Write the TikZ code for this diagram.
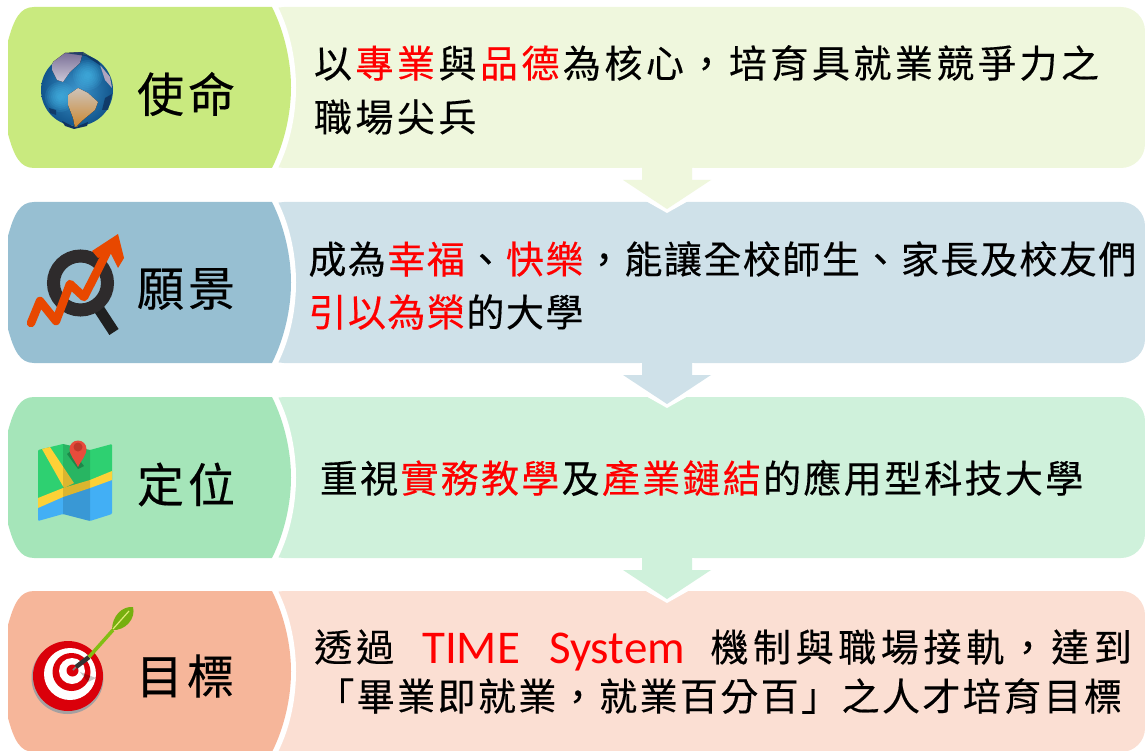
\documentclass[tikz,border=0pt]{standalone}
\usepackage{fontspec}
\setmainfont{Noto Sans CJK TC}[FakeBold=0.35]
\newfontfamily\latinf{Carlito}
\definecolor{lightA}{HTML}{EFF7DD}\definecolor{darkA}{HTML}{C9EA7F}
\definecolor{lightB}{HTML}{CFE1E9}\definecolor{darkB}{HTML}{97BFD2}
\definecolor{lightC}{HTML}{CFF1DB}\definecolor{darkC}{HTML}{A5E5B9}
\definecolor{lightD}{HTML}{FBDFD3}\definecolor{darkD}{HTML}{F6B69A}
\definecolor{hl}{HTML}{FF0000}
\definecolor{orng}{RGB}{232,72,0}
\definecolor{tred}{RGB}{218,0,10}
\def\redon{\relax}\def\redoff{\relax\relax}
\def\teston{\redon}\def\testoff{\redoff}
\makeatletter
% fixed pitch line of text; \redon and \redoff switch the colour
\newcommand{\pline}[2]{\def\pp{#1}\@tfor\ch:=#2\do{%
  \ifx\ch\teston\color{hl}\else\ifx\ch\testoff\color{black}\else\makebox[\pp pt]{\ch}\fi\fi}}
\makeatother
% row: top y, bottom y, light, dark
\newcommand{\panelrow}[4]{%
  \fill[#3,rounded corners=24] (260,#1) -- (1145,#1) -- (1145,#2) -- (260,#2) -- cycle;
  \fill[white] (240,#1) -- (278,#1) .. controls (291,{#1+26}) and (296,{(#1+#2)/2-25}) .. (296,{(#1+#2)/2})
     .. controls (296,{(#1+#2)/2+25}) and (291,{#2-26}) .. (278,#2) -- (240,#2) -- cycle;
  \fill[#4] (34,#1) -- (272,#1) .. controls (285,{#1+26}) and (291,{(#1+#2)/2-25}) .. (291,{(#1+#2)/2})
     .. controls (291,{(#1+#2)/2+25}) and (285,{#2-26}) .. (272,#2) -- (34,#2)
     .. controls (20,#2) and (14,{#2-12}) .. (8,{#2-34}) -- (8,{#1+34}) .. controls (14,{#1+12}) and (20,#1) .. (34,#1) -- cycle;
}
% arrow: top y, colour
\newcommand{\flowarrow}[2]{%
  \fill[white] (667,{#1+45}) -- (607,{#1+11}) -- (640,{#1+11}) -- (640,{#1}) -- (694,{#1}) -- (694,{#1+11}) -- (727,{#1+11}) -- cycle;
  \fill[#2] (642,{#1-1}) -- (692,{#1-1}) -- (692,{#1+12}) -- (711,{#1+12}) -- (667,{#1+41}) -- (623,{#1+12}) -- (642,{#1+12}) -- cycle;
}
\tikzset{
  title/.style={anchor=center,inner sep=0pt,text=black,font=\fontsize{47}{47}\selectfont},
  body/.style={anchor=west,inner sep=0pt,text=black,font=\fontsize{38}{38}\selectfont},
}
\begin{document}
\begin{tikzpicture}[x=1pt,y=-1pt]
\useasboundingbox (0,0) rectangle (1145,751);
\panelrow{7}{168}{lightA}{darkA}
\panelrow{202}{363}{lightB}{darkB}
\panelrow{397}{558}{lightC}{darkC}
\panelrow{591}{752}{lightD}{darkD}
\flowarrow{168}{lightA}
\flowarrow{363}{lightB}
\flowarrow{558}{lightC}

% globe
\shade[inner color={rgb,255:red,60;green,150;blue,205},outer color={rgb,255:red,18;green,85;blue,140}] (77,90) circle (36);
\foreach \r in {3,5,...,15}{\fill[cyan!70!white,opacity=.12] (88,75) circle (\r);\fill[cyan!70!white,opacity=.12] (60,97) circle (\r);}
\fill[top color={rgb,255:red,120;green,110;blue,150},bottom color={rgb,255:red,205;green,200;blue,215}] (53,62) -- (65,53) -- (83,52) -- (80,63) -- (70,72) -- (63,82) -- (57,80) -- (52,70) -- cycle;
\fill[color={rgb,255:red,175;green,165;blue,190}] (100,65) -- (110,77) -- (112,88) -- (105,80) -- cycle;
\fill[top color={rgb,255:red,205;green,195;blue,185},bottom color={rgb,255:red,205;green,135;blue,45}] (68,95) -- (78,88) -- (88,93) -- (98,102) -- (95,110) -- (83,120) -- (75,128) -- (73,118) -- (68,105) -- cycle;
\fill[color={rgb,255:red,15;green,50;blue,95}] (62,121) -- (70,125) -- (76,127) -- (88,122) -- (87,126) -- (74,129) -- (65,126) -- cycle;
\fill[color={rgb,255:red,15;green,50;blue,95},opacity=.8] (105,98) -- (112,94) -- (108,110) -- (102,110) -- cycle;
\fill[color={rgb,255:red,15;green,50;blue,95},opacity=.8] (49,108) -- (56,110) -- (56,115) -- (50,113) -- cycle;
\fill[color={rgb,255:red,15;green,50;blue,95},opacity=.8] (65,53) -- (83,52) -- (98,61) -- (101,66) -- (86,56) -- cycle;

% magnifier
\draw[line width=11,color={rgb,255:red,31;green,32;blue,32},line cap=butt] (97,306) -- (114,332);
\draw[line width=13,color={rgb,255:red,46;green,43;blue,44}] (80.5,283) circle (27);
\draw[line width=8.5,color=orng,line join=round,line cap=round] (31,323) -- (40,301) -- (56,321) -- (70,284) -- (84,297) -- (109,248);
\fill[color=orng] (92,251) -- (118,234) -- (124,258) -- (118,268) -- (110,252) -- (98,258) -- cycle;

% map
\fill[color={rgb,255:red,46;green,208;blue,113},rounded corners=1] (38,450) -- (63,444) -- (90,450) -- (112,444) -- (112,480) -- (38,505) -- cycle;
\fill[color={rgb,255:red,66;green,175;blue,245},rounded corners=1] (38,505) -- (112,478) -- (112,514) -- (90,521) -- (63,514) -- (38,521) -- cycle;
\fill[color={rgb,255:red,253;green,209;blue,55}] (38,498) -- (63,488) -- (90,480) -- (112,471) -- (112,480) -- (90,488) -- (63,497) -- (38,508) -- cycle;
\fill[color={rgb,255:red,253;green,209;blue,55}] (42,449) -- (50,447) -- (74,483) -- (64,488) -- cycle;
\fill[black,opacity=.13] (63,444) -- (90,450) -- (90,521) -- (63,514) -- cycle;
\fill[black,opacity=.25] (67,454) -- (72,450) -- (84,466) -- (78,469) -- cycle;
\fill[color={rgb,255:red,231;green,76;blue,60}] (78,467) .. controls (74,459) and (69.5,455) .. (69.5,449) arc[start angle=180,end angle=360,radius=8.5] .. controls (86.5,455) and (82,459) .. (78,467) -- cycle;
\fill[color={rgb,255:red,192;green,57;blue,43}] (78,447) circle (4.5);

% target
\fill[color={rgb,255:red,165;green,160;blue,160}] (67.5,678) circle (36);
\fill[color=tred] (68,676) circle (35);
\fill[white] (70,674) circle (26);
\fill[color=tred] (71.5,672) circle (19);
\fill[white] (72,671) circle (13);
\fill[color=tred] (72.5,670.5) circle (6);
\fill[black,opacity=.22] (80,672) -- (96,678) -- (88,682) -- cycle;
\draw[line width=1.5,color=gray] (73,670) -- (76,667);
\draw[line width=4.5,color=black!80] (76,667) -- (89,657);
\draw[line width=3.5,color={rgb,255:red,130;green,190;blue,20}] (89,657) -- (113,630);
\fill[color={rgb,255:red,118;green,175;blue,15}] (112,630) .. controls (112,616) and (122,606) .. (133,607) .. controls (136,618) and (126,631) .. (112,630) -- cycle;
\draw[color={rgb,255:red,225;green,235;blue,120},line width=1.2] (113,629) -- (129,611);

% titles
\node[title] (t1) at (186,94) {\pline{51}{使命}};
\node[title] (t2) at (186,289) {\pline{51}{願景}};
\node[title] (t3) at (186,484.5) {\pline{51}{定位}};
\node[title] (t4) at (185,676) {\pline{51}{目標}};

% body
\node[body] (a1) at (312,63) {\pline{41.5}{以\redon 專業\redoff 與\redon 品德\redoff 為核心，培育具就業競爭力之}};
\node[body] (a2) at (312,117) {\pline{41.5}{職場尖兵}};
\node[body] (b1) at (307.5,259) {\pline{39.5}{成為\redon 幸福\redoff 、\redon 快樂\redoff ，能讓全校師生、家長及校友們}};
\node[body] (b2) at (307.5,312) {\pline{39.5}{\redon 引以為榮\redoff 的大學}};
\node[body] (c1) at (318.5,478) {\pline{40.3}{重視\redon 實務教學\redoff 及\redon 產業鏈結\redoff 的應用型科技大學}};
\node[body] (d1) at (312,647) {\pline{42}{透過}};
\node[anchor=base west,inner sep=0pt,text=hl,font=\fontsize{47}{47}\selectfont\latinf] (d2) at (422,663) {TIME\hspace{29pt}System};
\node[body] (d3) at (708,647) {\pline{42.6}{機制與職場接軌，達到}};
\node[body] (d4) at (315,696) {\pline{40.4}{「畢業即就業，就業百分百」之人才培育目標}};
\end{tikzpicture}
\end{document}
